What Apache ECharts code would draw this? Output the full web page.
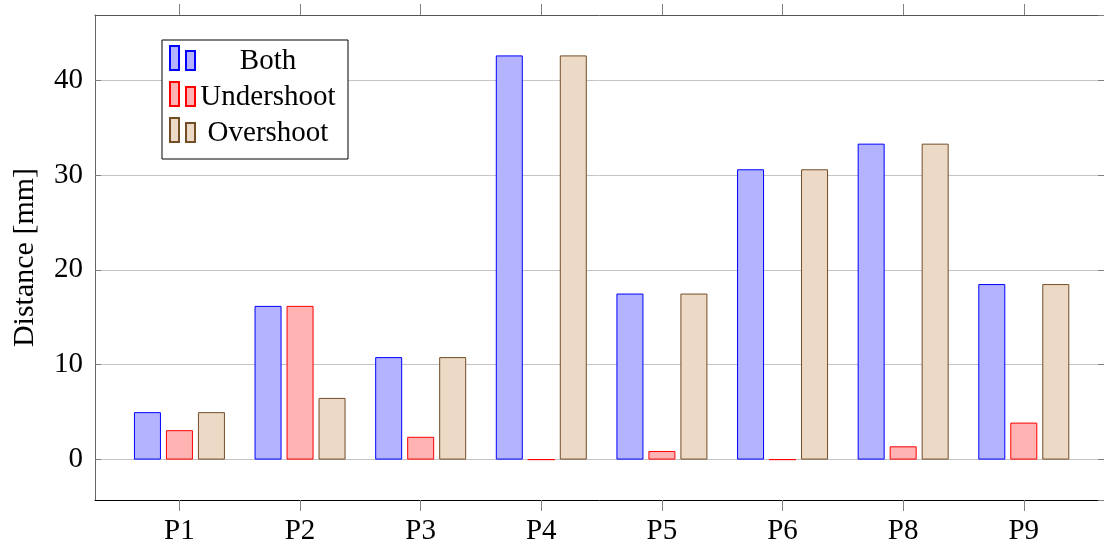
<!DOCTYPE html>
<html>
<head>
<meta charset="utf-8">
<script src="https://cdn.jsdelivr.net/npm/echarts@6/dist/echarts.min.js"></script>
<style>
  html, body { margin: 0; padding: 0; background: #fff; }
  #chart { width: 1104px; height: 549px; }
</style>
</head>
<body>
<div id="chart"></div>
<script>
// Positions P1..P9 (P7 absent) and the three distance series, in mm
const categories = ['P1', 'P2', 'P3', 'P4', 'P5', 'P6', 'P8', 'P9'];
const bothValues = [5.0, 16.2, 10.8, 42.6, 17.5, 30.6, 33.3, 18.5];
const undershootValues = [3.1, 16.2, 2.4, 0, 0.9, 0, 1.4, 3.9];
const overshootValues = [5.0, 6.5, 10.8, 42.6, 17.5, 30.6, 33.3, 18.5];
const seriesNames = ['Both', 'Undershoot', 'Overshoot'];
const yLabel = 'Distance [mm]';

const FONT = '"Liberation Serif", "DejaVu Serif", serif';
const FONT_SIZE = 29;
const TICK_GRAY = '#808080';
const positions = categories.map((_, i) => i);

// x limits: padded on the left, the right border runs just past the page edge
const xMin = -0.7, xMax = categories.length - 1 + 0.665;
const yMin = -4.26, yMax = 46.86;

function toPairs(values) {
  return values.map((v, i) => [i, v]);
}

const styles = [
  { fill: '#b3b3ff', stroke: '#0000ff' },
  { fill: '#ffb3b3', stroke: '#ff0000' },
  { fill: '#ecd9c6', stroke: '#734d26' }
];
const seriesData = [bothValues, undershootValues, overshootValues];

const chart = echarts.init(document.getElementById('chart'), null, { renderer: 'canvas' });

chart.setOption({
  animation: false,
  backgroundColor: '#ffffff',
  grid: { left: 95, right: 0, top: 15, bottom: 49, containLabel: false },
  legend: {
    orient: 'vertical',
    left: 162,
    top: 40,
    padding: [0, 12, 11, 7],
    itemGap: 0,
    itemWidth: 25,
    itemHeight: 24,
    icon: 'path://M0,0H9V24H0ZM16,5H25V24H16Z',
    backgroundColor: '#ffffff',
    borderColor: '#000000',
    borderWidth: 1,
    borderRadius: 0,
    data: seriesNames,
    formatter: '{t|{name}}',
    textStyle: {
      rich: {
        t: {
          width: 136,
          align: 'center',
          fontFamily: FONT,
          fontSize: FONT_SIZE,
          color: '#000',
          lineHeight: 28,
          padding: [7, 0, 0, 0]
        }
      }
    }
  },
  xAxis: [
    {
      type: 'value',
      position: 'bottom',
      min: xMin,
      max: xMax,
      axisLine: { show: true, onZero: false, lineStyle: { color: '#000', width: 1 } },
      axisTick: { show: true, inside: false, length: 11, customValues: positions,
        lineStyle: { color: TICK_GRAY, width: 1 } },
      axisLabel: {
        show: true,
        customValues: positions,
        formatter: (v) => categories[Math.round(v)],
        fontFamily: FONT,
        fontSize: FONT_SIZE,
        color: '#000',
        margin: 17
      },
      splitLine: { show: false }
    },
    {
      type: 'value',
      position: 'top',
      min: xMin,
      max: xMax,
      axisLine: { show: true, onZero: false, lineStyle: { color: '#555', width: 1 } },
      axisTick: { show: true, inside: false, length: 11, customValues: positions,
        lineStyle: { color: TICK_GRAY, width: 1 } },
      axisLabel: { show: false },
      splitLine: { show: false }
    }
  ],
  yAxis: [
    {
      type: 'value',
      position: 'left',
      min: yMin,
      max: yMax,
      splitNumber: 5,
      name: yLabel,
      nameLocation: 'middle',
      nameGap: 55,
      nameTextStyle: { fontFamily: FONT, fontSize: 30, color: '#000' },
      axisLine: { show: true, onZero: false, lineStyle: { color: '#666', width: 1 } },
      axisTick: { show: true, inside: true, length: 6, lineStyle: { color: TICK_GRAY, width: 1 } },
      axisLabel: {
        fontFamily: FONT,
        fontSize: FONT_SIZE,
        color: '#000',
        margin: 12,
        showMinLabel: false,
        showMaxLabel: false,
        formatter: (v) => (Math.abs(v - Math.round(v)) < 1e-6 ? String(Math.round(v)) : '')
      },
      splitLine: { show: true, lineStyle: { color: '#c4c4c4', width: 1 } }
    },
    {
      type: 'value',
      position: 'right',
      min: yMin,
      max: yMax,
      splitNumber: 5,
      axisLine: { show: true, onZero: false, lineStyle: { color: '#666', width: 1 } },
      axisTick: { show: true, inside: true, length: 6, lineStyle: { color: TICK_GRAY, width: 1 } },
      axisLabel: { show: false },
      splitLine: { show: false }
    }
  ],
  series: seriesNames.map((name, k) => ({
    name: name,
    type: 'bar',
    xAxisIndex: 0,
    yAxisIndex: 0,
    barWidth: 27,
    barGap: '18.5%',
    data: toPairs(seriesData[k]),
    itemStyle: {
      color: styles[k].fill,
      borderColor: styles[k].stroke,
      borderWidth: 1
    },
    emphasis: { disabled: true }
  }))
});
</script>
</body>
</html>
